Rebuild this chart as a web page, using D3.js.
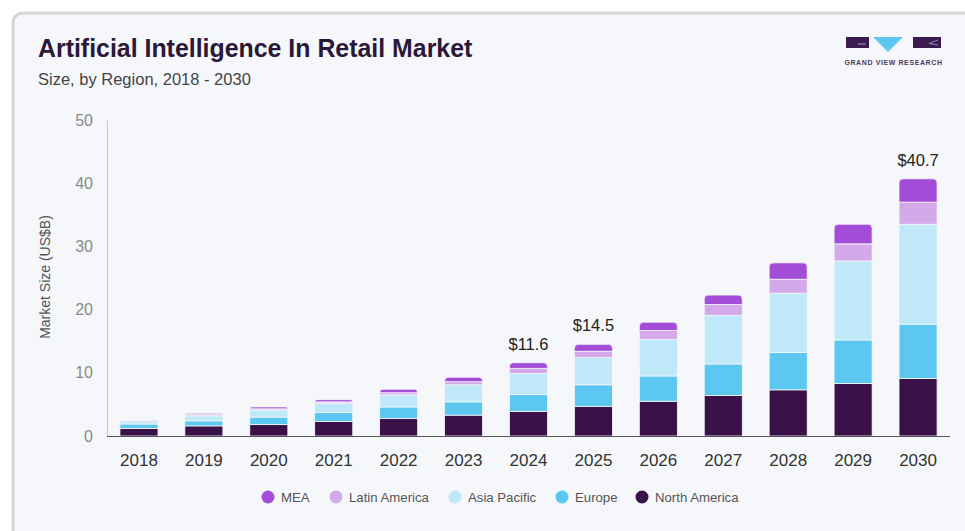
<!DOCTYPE html>
<html>
<head>
<meta charset="utf-8">
<script src="https://cdn.jsdelivr.net/npm/d3@7"></script>
<style>
  html, body { margin: 0; padding: 0; background: #ffffff; }
  svg { display: block; font-family: "Liberation Sans", Arial, Helvetica, sans-serif; }
</style>
</head>
<body>
<svg id="chart" width="965" height="531"></svg>
<script>
// Market size by region (US$B), 2018-2030
const years = ["2018","2019","2020","2021","2022","2023","2024","2025","2026","2027","2028","2029","2030"];
const northAmerica = [1.2, 1.6, 1.8, 2.3, 2.75, 3.3, 3.9, 4.7, 5.5, 6.4, 7.3, 8.3, 9.1];
const europe       = [0.7, 0.8, 1.2, 1.4, 1.85, 2.1, 2.7, 3.4, 4.0, 5.0, 5.9, 6.9, 8.6];
const asiaPacific  = [0.4, 0.8, 1.1, 1.5, 1.9, 2.7, 3.3, 4.3, 5.8, 7.7, 9.4, 12.5, 15.8];
const latinAmerica = [0.05, 0.25, 0.2, 0.2, 0.35, 0.5, 0.8, 1.0, 1.4, 1.7, 2.2, 2.7, 3.5];
const mea          = [0.05, 0.15, 0.3, 0.35, 0.55, 0.7, 0.9, 1.1, 1.3, 1.5, 2.6, 3.1, 3.7];
const totalLabels  = { "2024": 11.6, "2025": 14.5, "2030": 40.7 };
const yTicks = [0, 10, 20, 30, 40, 50];

const seriesNames = ["North America", "Europe", "Asia Pacific", "Latin America", "MEA"];
const seriesValues = [northAmerica, europe, asiaPacific, latinAmerica, mea];
const colors = {
  "North America": "#3a1049",
  "Europe": "#5cc8f1",
  "Asia Pacific": "#bfe8f8",
  "Latin America": "#d4a9e9",
  "MEA": "#a24cd8"
};
const legendOrder = ["MEA", "Latin America", "Asia Pacific", "Europe", "North America"];

const svg = d3.select("#chart");

// card background with rounded border
svg.append("rect")
  .attr("x", 13).attr("y", 13).attr("width", 1000).attr("height", 560)
  .attr("rx", 10).attr("ry", 10)
  .attr("fill", "#f5f7fa").attr("stroke", "#d6d6d6").attr("stroke-width", 3);

// titles
svg.append("text").attr("x", 38).attr("y", 57)
  .attr("font-size", 24.9).attr("font-weight", "bold").attr("fill", "#2b1838")
  .text("Artificial Intelligence In Retail Market");
svg.append("text").attr("x", 38).attr("y", 85)
  .attr("font-size", 16.5).attr("fill", "#444")
  .text("Size, by Region, 2018 - 2030");

// logo
const logo = svg.append("g");
logo.append("rect").attr("x", 846).attr("y", 37).attr("width", 23).attr("height", 11).attr("fill", "#3a1c52");
logo.append("line").attr("x1", 858).attr("x2", 866).attr("y1", 44).attr("y2", 44).attr("stroke", "#9fa6c8").attr("stroke-width", 1);
logo.append("path").attr("d", "M873,37 L903,37 L888,52 Z").attr("fill", "#5cc8f1");
logo.append("rect").attr("x", 913).attr("y", 37).attr("width", 28).attr("height", 11).attr("fill", "#3a1c52");
logo.append("path").attr("d", "M938,40 L929,43.5 L938,45").attr("fill", "none").attr("stroke", "#9fa6c8").attr("stroke-width", 0.8);
logo.append("text").attr("x", 893.5).attr("y", 65).attr("text-anchor", "middle")
  .attr("font-size", 7).attr("font-weight", "bold").attr("fill", "#4a3a5a").attr("letter-spacing", 0.6)
  .text("GRAND VIEW RESEARCH");

// scales
const x = d3.scaleBand().domain(years).range([106.5, 950.5]).paddingInner(0.414).paddingOuter(0.207);
const y = d3.scaleLinear().domain([0, 50]).range([436, 120]);

// stacked data
const rows = years.map((yr, i) => {
  const r = { year: yr };
  seriesNames.forEach((s, k) => r[s] = seriesValues[k][i]);
  return r;
});
const stacked = d3.stack().keys(seriesNames)(rows);

// y axis
const yAxis = svg.append("g").attr("transform", "translate(107,0)")
  .call(d3.axisLeft(y).tickValues(yTicks).tickSize(0).tickPadding(14));
yAxis.select(".domain").attr("stroke", "#c8c8c8");
yAxis.selectAll("text").attr("font-size", 16).attr("fill", "#8a8a8a")
  .attr("font-family", "Liberation Sans, Arial, sans-serif");

svg.append("text")
  .attr("transform", "translate(50,277) rotate(-90)")
  .attr("text-anchor", "middle").attr("font-size", 14).attr("fill", "#555")
  .text("Market Size (US$B)");

// bars
const r = 4;
stacked.forEach((layer, li) => {
  const isTop = li === stacked.length - 1;
  const g = svg.append("g").attr("fill", colors[layer.key]);
  layer.forEach(d => {
    const x0 = x(d.data.year), w = x.bandwidth();
    const yTop = y(d[1]), yBot = y(d[0]);
    const h = yBot - yTop;
    if (isTop) {
      const rr = Math.min(r, h);
      g.append("path")
        .attr("d", `M${x0},${yBot} L${x0},${yTop + rr} Q${x0},${yTop} ${x0 + rr},${yTop} L${x0 + w - rr},${yTop} Q${x0 + w},${yTop} ${x0 + w},${yTop + rr} L${x0 + w},${yBot} Z`)
        .attr("stroke", "#f5f7fa").attr("stroke-width", 0.8);
    } else {
      g.append("rect").attr("x", x0).attr("y", yTop).attr("width", w).attr("height", h)
        .attr("stroke", "#f5f7fa").attr("stroke-width", 0.8);
    }
  });
});

// x axis
const xAxis = svg.append("g").attr("transform", "translate(0,436)")
  .call(d3.axisBottom(x).tickSize(0).tickPadding(18));
xAxis.select(".domain").attr("stroke", "#555").attr("d", "M107,0.5H950");
xAxis.selectAll("text").attr("font-size", 17).attr("fill", "#333")
  .attr("font-family", "Liberation Sans, Arial, sans-serif");

// total labels
Object.entries(totalLabels).forEach(([yr, v]) => {
  svg.append("text")
    .attr("x", x(yr) + x.bandwidth() / 2).attr("y", y(v) - 13)
    .attr("text-anchor", "middle").attr("font-size", 16.5).attr("fill", "#222")
    .text("$" + v.toFixed(1));
});

// legend
const legendX = [268, 336, 455, 562, 642];
const lg = svg.append("g");
legendOrder.forEach((name, i) => {
  lg.append("circle").attr("cx", legendX[i]).attr("cy", 497).attr("r", 6.5).attr("fill", colors[name]);
  lg.append("text").attr("x", legendX[i] + 13).attr("y", 501.5)
    .attr("font-size", 13.2).attr("fill", "#555").text(name);
});
</script>
</body>
</html>
